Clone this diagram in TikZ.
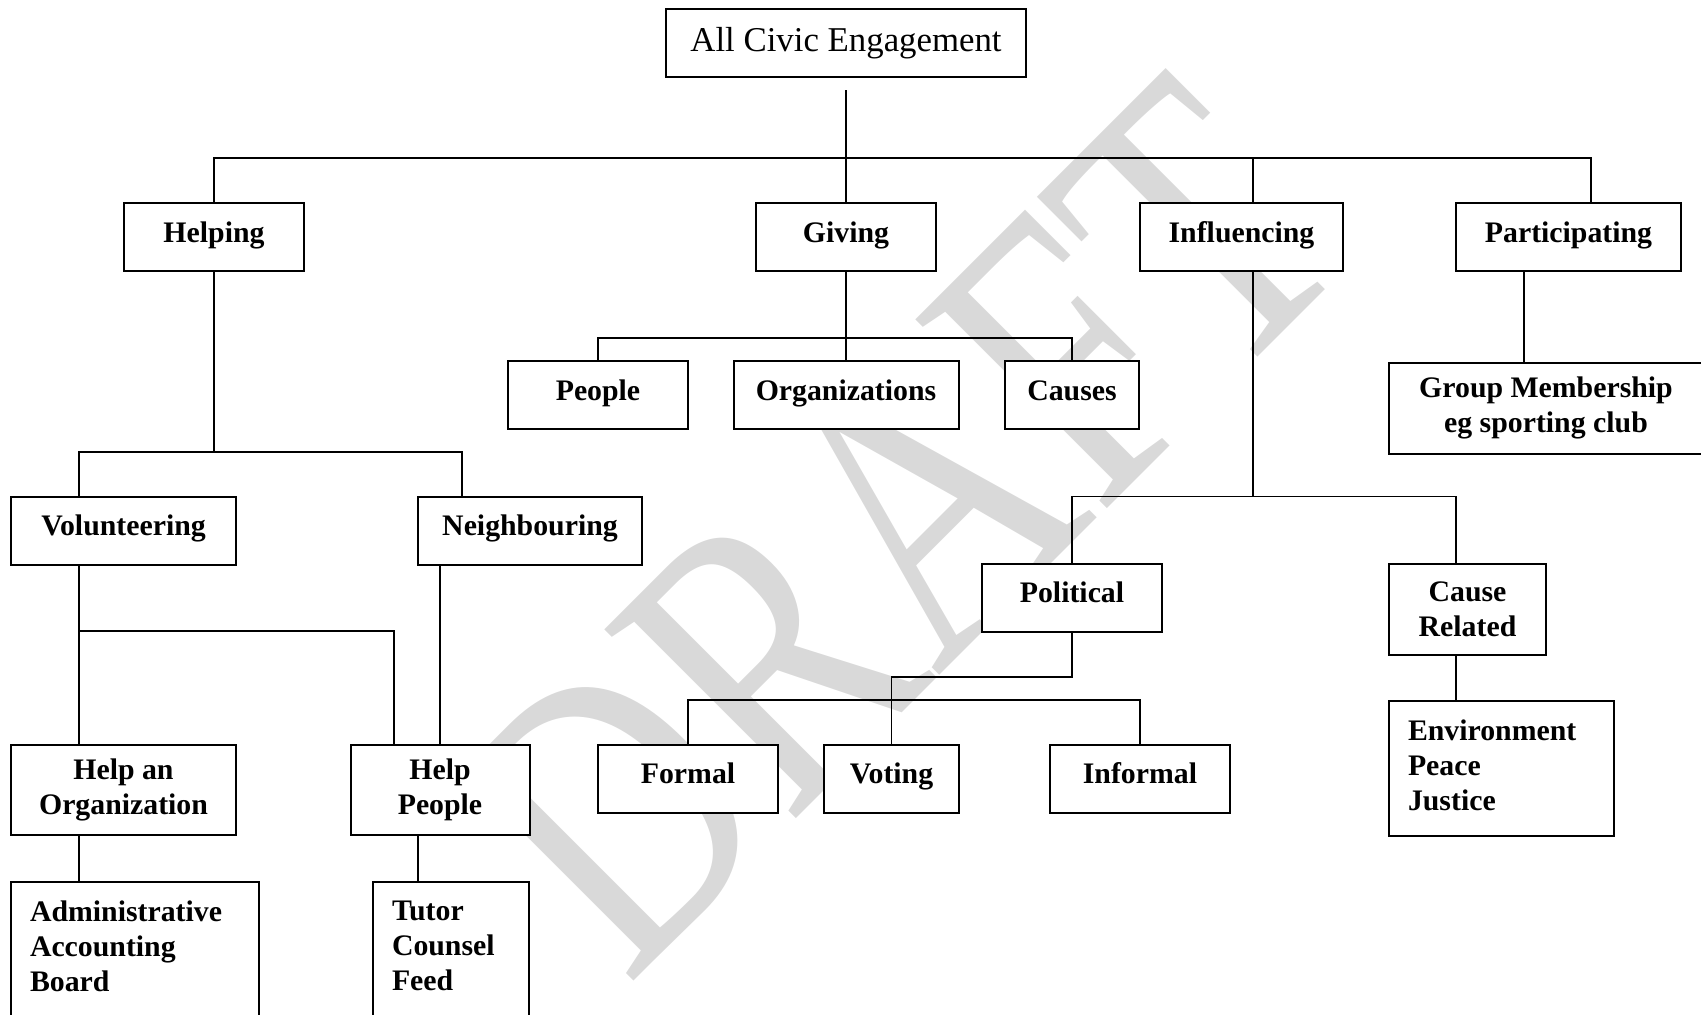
\documentclass[tikz,border=0pt]{standalone}
\usepackage{fontspec}
\setmainfont{Liberation Serif}

\begin{document}
\begin{tikzpicture}[
  x=0.5pt, y=-0.5pt,
  cat/.style={draw, line width=1pt, fill=white, inner sep=0pt, align=center, font=\fontsize{14.9}{17.4}\selectfont\bfseries},
  branch/.style={cat, text height=10.5pt, text depth=5.5pt},
  tallbox/.style={draw, line width=1pt, fill=white, inner xsep=9.5pt, inner ysep=9.5pt, anchor=north, font=\fontsize{14.9}{17.4}\selectfont\bfseries},
  link/.style={line width=0.65pt},
  watermark/.style={text=black!15, inner sep=0pt, font=\fontsize{158}{158}\selectfont}
]
\useasboundingbox (0,0) rectangle (1701,1014);

% Watermark behind everything
\node[watermark, rotate=45, yscale=1.3] (draft) at (898,526) {DRAFT};

% Root and first level
\node[cat, font=\fontsize{17.4}{20}\selectfont, minimum width=180pt, minimum height=34pt] (root) at (846,43) {All Civic Engagement};
\node[branch, minimum width=90pt, minimum height=34pt] (helping) at (214,237) {Helping};
\node[branch, minimum width=90pt, minimum height=34pt] (giving) at (846,237) {Giving};
\node[branch, minimum width=101.5pt, minimum height=34pt] (influencing) at (1241.5,237) {Influencing};
\node[branch, minimum width=112.5pt, minimum height=34pt] (participating) at (1568.5,237) {Participating};

\coordinate (topbus) at (846,158);
\draw[link] ([yshift=-6pt]root.south) -- (topbus);
\draw[link] (helping.north) |- (topbus) -| ([xshift=11.25pt]participating.north);
\draw[link] (giving.north) -- (topbus);
\draw[link] ([xshift=5.75pt]influencing.north) |- (topbus);

% Giving
\node[branch, minimum width=90pt, minimum height=34pt] (people) at (598,395) {People};
\node[branch, minimum width=112.5pt, minimum height=34pt] (organizations) at (846,395) {Organizations};
\node[branch, minimum width=67pt, minimum height=34pt] (causes) at (1072,395) {Causes};

\coordinate (givebus) at (846,338);
\draw[link] (giving.south) -- (organizations.north);
\draw[link] (people.north) |- (givebus) -| (causes.north);

% Participating
\node[cat, minimum width=157pt, minimum height=45.5pt] (group) at (1546,408) {Group Membership\\eg sporting club};
\draw[link] ([xshift=-22.25pt]participating.south) -- ([xshift=-11pt]group.north);

% Helping
\node[branch, minimum width=112.5pt, minimum height=33.75pt] (volunteering) at (123.5,530.75) {Volunteering};
\node[branch, minimum width=112pt, minimum height=33.75pt] (neighbouring) at (530,530.75) {Neighbouring};

\coordinate (helpbus) at (214,452);
\draw[link] (helping.south) -- (helpbus);
\draw[link] ([xshift=-22.25pt]volunteering.north) |- (helpbus) -| ([xshift=-34pt]neighbouring.north);

\node[cat, minimum width=112.5pt, minimum height=45.3pt] (helporg) at (123.5,790) {Help an\\Organization};
\node[cat, minimum width=89.5pt, minimum height=45.3pt] (helppeople) at (440,790) {Help\\People};

\coordinate (volbus) at (79,631);
\draw[link] ([xshift=-22.25pt]volunteering.south) -- ([xshift=-22.25pt]helporg.north);
\draw[link] (volbus) -| ([xshift=-23pt]helppeople.north);
\draw[link] ([xshift=-45pt]neighbouring.south) -- (helppeople.north);

\node[tallbox] (admin) at (135,881) {\parbox[t][60pt][t]{105pt}{Administrative\\Accounting\\Board}};
\node[tallbox] (tutor) at (451,881) {\parbox[t][60pt][t]{59pt}{Tutor\\Counsel\\Feed}};
\draw[link] ([xshift=-22.25pt]helporg.south) -- ([xshift=-28pt]admin.north);
\draw[link] ([xshift=-11pt]helppeople.south) -- ([xshift=-16.5pt]tutor.north);

% Influencing
\node[branch, minimum width=90pt, minimum height=33.75pt] (political) at (1072,597.75) {Political};
\node[cat, minimum width=78.5pt, minimum height=45.5pt] (causerel) at (1467.5,609.5) {Cause\\Related};

\coordinate (inflbus) at (1253,496.5);
\draw[link] ([xshift=5.75pt]influencing.south) -- (inflbus);
\draw[link] (political.north) |- (inflbus) -| ([xshift=-5.75pt]causerel.north);

\node[branch, minimum width=90pt, minimum height=34.1pt] (formal) at (688,778.7) {Formal};
\node[branch, minimum width=67.5pt, minimum height=34.1pt] (voting) at (891.5,778.7) {Voting};
\node[branch, minimum width=90pt, minimum height=34.1pt] (informal) at (1140,778.7) {Informal};

\coordinate (polturn) at (1072,677);
\coordinate (polbus) at (891.5,700);
\draw[link] (political.south) -- (polturn) -| (voting.north);
\draw[link] (formal.north) |- (polbus) -| (informal.north);

\node[tallbox] (environment) at (1501.5,700) {\parbox[t][48.5pt][t]{93.5pt}{Environment\\Peace\\Justice}};
\draw[link] ([xshift=-5.75pt]causerel.south) -- ([xshift=-22.75pt]environment.north);

\end{tikzpicture}
\end{document}
